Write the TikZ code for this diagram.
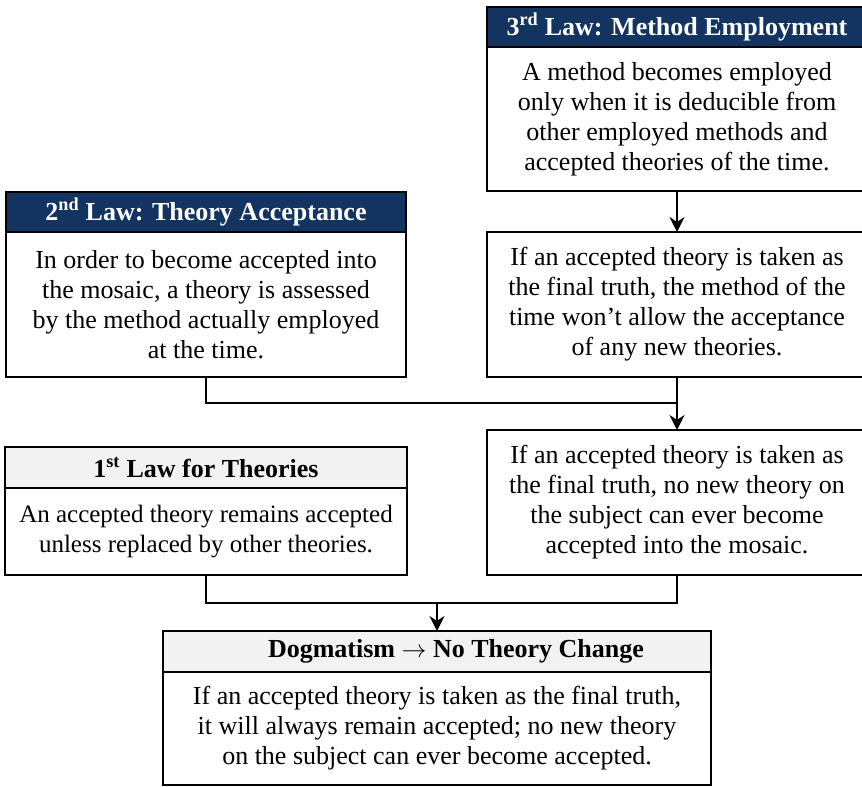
\documentclass[tikz,border=0pt]{standalone}
\usepackage{fontspec}
\setmainfont{Liberation Serif}
\usetikzlibrary{arrows.meta}
\definecolor{navy}{RGB}{19,52,96}
\definecolor{paleg}{RGB}{242,242,242}
\newcommand{\txtfont}{\fontsize{26}{30}\selectfont}
\newcommand{\smallerfont}{\fontsize{25}{30}\selectfont}
\begin{document}
\begin{tikzpicture}[x=1pt,y=-1pt,
  frame/.style={draw=black, line width=2.2pt, inner sep=0pt, outer sep=0pt,
    align=center, font=\txtfont},
  darkhead/.style={frame, fill=navy, text=white, font=\txtfont\bfseries},
  lighthead/.style={frame, fill=paleg, text=black, font=\txtfont\bfseries},
  link/.style={draw=black, line width=2pt},
  arrowlink/.style={link, -{Stealth[length=15pt,width=15pt,inset=5pt]}}]
\useasboundingbox (0,0) rectangle (862,787);
\clip (0,0) rectangle (862,787);
\fill[white] (0,0) rectangle (862,787);

% Third law
\node[darkhead, minimum width=380pt, minimum height=40pt] (h3) at (677,27)
  {3\textsuperscript{rd} Law: Method Employment};
\node[frame, fill=white, minimum width=380pt, minimum height=144pt] (b3) at (677,119)
  {A method becomes employed\\only when it is deducible from\\other employed methods and\\accepted theories of the time.};

% Consequence for the method
\node[frame, fill=white, minimum width=380pt, minimum height=145pt] (m2) at (677,304.5)
  {If an accepted theory is taken as\\the final truth, the method of the\\time won’t allow the acceptance\\of any new theories.};

% Second law
\node[darkhead, minimum width=400pt, minimum height=40pt] (h2) at (206,212)
  {2\textsuperscript{nd} Law: Theory Acceptance};
\node[frame, fill=white, minimum width=400pt, minimum height=145pt] (b2) at (206,304.5)
  {In order to become accepted into\\the mosaic, a theory is assessed\\by the method actually employed\\at the time.};

% Consequence for the mosaic
\node[frame, fill=white, minimum width=380pt, minimum height=145pt] (m3) at (677,502.5)
  {If an accepted theory is taken as\\the final truth, no new theory on\\the subject can ever become\\accepted into the mosaic.};

% First law
\node[lighthead, minimum width=402pt, minimum height=41pt] (h1) at (206,467.5)
  {1\textsuperscript{st} Law for Theories};
\node[frame, fill=white, minimum width=402pt, minimum height=87pt, font=\smallerfont] (b1) at (206,531.5)
  {An accepted theory remains accepted\\unless replaced by other theories.};

% Conclusion
\node[lighthead, minimum width=548pt, minimum height=41pt] (hd) at (437,651.5) {};
\node[font=\txtfont\bfseries, inner sep=0pt] (hdtext) at (456,651.5)
  {Dogmatism $\rightarrow$ No Theory Change};
\node[frame, fill=white, minimum width=548pt, minimum height=113pt] (bd) at (437,728.5)
  {If an accepted theory is taken as the final truth,\\it will always remain accepted; no new theory\\on the subject can ever become accepted.};

% Connectors
\coordinate (j1) at (677,403);
\coordinate (j2) at (437,603);
\draw[arrowlink] (b3.south) -- (m2.north);
\draw[arrowlink] (m2.south) -- (m3.north);
\draw[link] (b2.south) |- (j1);
\draw[link] (b1.south) |- (j2) -| (m3.south);
\draw[arrowlink] (j2) -- (hd.north);
\end{tikzpicture}
\end{document}
